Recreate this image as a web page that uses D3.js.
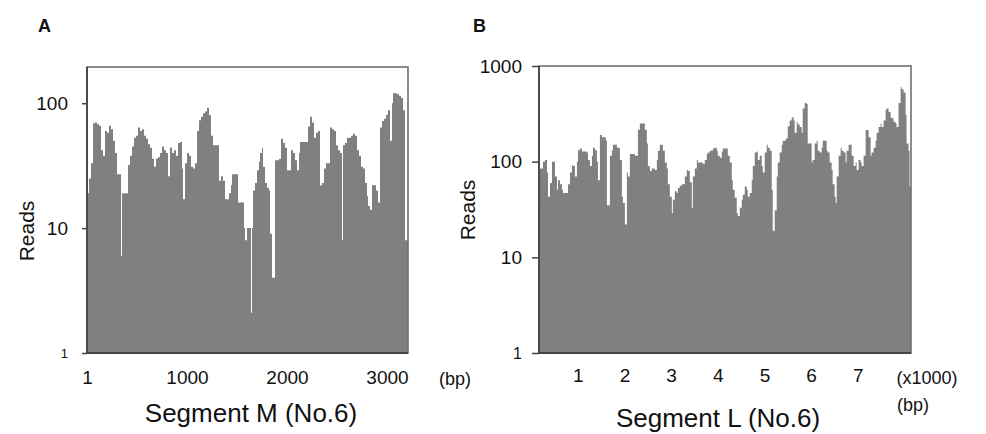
<!DOCTYPE html>
<html><head><meta charset="utf-8">
<script src="https://cdn.jsdelivr.net/npm/d3@7"></script>
<style>body{margin:0;background:#fff;} svg{display:block;} text{font-family:Arial,"Liberation Sans",Helvetica,sans-serif;fill:#111;}</style>
</head><body><svg id="c" width="986" height="434"></svg>
<script>
// Panel A: Segment M (No.6) coverage, positions in bp
const posA=[0,20,40,60,80,100,120,140,160,180,200,220,240,260,280,300,340,350,410,430,450,470,490,510,530,550,570,590,610,630,650,670,690,710,730,750,770,790,810,830,850,870,890,910,930,950,960,980,1000,1020,1040,1060,1080,1100,1120,1140,1160,1180,1200,1220,1240,1260,1320,1340,1360,1380,1420,1440,1450,1510,1570,1580,1600,1640,1650,1660,1680,1700,1720,1730,1750,1760,1780,1800,1820,1830,1850,1880,1920,1940,1960,1980,2000,2040,2060,2080,2100,2120,2130,2190,2210,2230,2250,2270,2290,2310,2330,2350,2370,2390,2430,2450,2470,2490,2510,2530,2550,2560,2580,2600,2640,2660,2680,2700,2720,2740,2760,2780,2800,2810,2830,2850,2890,2910,2930,2950,2970,2990,3010,3030,3050,3060,3100,3120,3140,3160,3180];
const readsA=[19,25,33,69,70,68,66,42,38,60,58,66,62,50,40,27,6,19,32,38,45,53,55,64,60,62,55,52,47,44,36,31,36,37,40,45,42,40,26,44,40,42,38,48,49,30,17,33,40,38,31,30,33,60,73,78,83,86,92,80,55,46,24,26,24,17,19,22,27,16,10,8,10,2.1,10,20,23,29,34,40,44,31,23,21,20,9,4,35,36,52,48,44,29,42,40,35,29,40,49,49,65,78,70,53,58,60,22,23,30,33,64,62,60,46,42,40,8,46,48,53,55,57,55,42,38,31,30,23,18,15,14,22,20,16,64,72,75,81,88,50,100,120,118,115,110,88,8];
// Panel B: Segment L (No.6) coverage, positions in bp
const posB=[170,191,256,298,341,363,405,448,512,555,577,619,662,684,791,833,876,898,940,983,1005,1047,1090,1197,1219,1261,1304,1326,1368,1411,1433,1475,1518,1604,1625,1689,1732,1754,1839,1903,1946,1968,2010,2053,2075,2117,2224,2289,2331,2438,2481,2503,2545,2588,2652,2695,2717,2759,2824,2866,2909,2931,2973,3016,3038,3080,3123,3145,3187,3230,3294,3337,3359,3401,3444,3466,3508,3551,3573,3680,3722,3765,3787,3829,3894,3936,3979,4001,4043,4086,4108,4215,4257,4300,4322,4364,4407,4429,4471,4514,4536,4578,4621,4643,4685,4728,4750,4792,4835,4857,4899,4942,4964,5006,5049,5071,5113,5156,5178,5220,5263,5285,5327,5370,5392,5456,5499,5541,5584,5627,5648,5691,5713,5755,5798,5820,5862,5905,5927,6012,6034,6076,6119,6141,6183,6226,6248,6333,6355,6397,6440,6462,6504,6526,6547,6590,6633,6654,6697,6740,6761,6804,6868,6911,6954,6975,7018,7061,7082,7125,7168,7232,7275,7296,7339,7382,7403,7446,7489,7510,7553,7596,7617,7660,7703,7724,7767,7810,7831,7874,7917,7938,7981,8024,8045,8088,8109];
const readsB=[30,85,100,104,77,43,60,100,70,51,64,58,51,47,58,77,92,90,70,100,132,137,128,125,104,90,115,140,132,100,64,190,180,165,35,115,132,150,140,104,43,37,22,77,70,120,115,215,250,215,155,90,80,85,82,104,130,150,130,98,85,58,43,29,40,49,47,53,56,58,70,82,80,61,33,70,85,104,98,95,104,120,125,130,137,140,130,115,110,128,137,115,98,64,51,42,29,27,33,40,45,55,51,43,47,64,90,125,128,104,115,90,77,125,150,140,130,51,19,31,70,98,125,150,165,175,235,270,290,270,200,260,245,230,200,360,410,400,155,98,104,155,165,130,125,140,165,130,125,98,82,58,43,37,70,115,140,130,125,98,130,150,115,90,98,82,104,98,90,115,214,180,115,125,140,165,200,230,250,230,270,347,360,330,290,285,260,250,230,410,600,570,530,310,155,130,55];

const xTicksA=[1,1000,2000,3000];
const yTicksA=[1,10,100];
const xTicksB=[1000,2000,3000,4000,5000,6000,7000];
const xTickLabelsB=["1","2","3","4","5","6","7"];
const yTicksB=[1,10,100,1000];

const svg=d3.select("#c");

function drawPanel(o){
  const g=svg.append("g");
  const x=d3.scaleLinear().domain(o.xDomain).range([o.left,o.right]);
  const y=d3.scaleLog().domain(o.yDomain).range([o.bottom,o.top]);
  const pts=o.pos.map((p,i)=>[p,o.vals[i]]);
  pts.push([o.xDomain[1],o.vals[o.vals.length-1]]);
  const area=d3.area().x(d=>x(d[0])).y0(y(o.yDomain[0])).y1(d=>y(d[1])).curve(d3.curveStepAfter);
  g.append("path").datum(pts).attr("d",area).attr("fill","#808080");
  // frame
  g.append("rect").attr("x",o.left).attr("y",o.top).attr("width",o.right-o.left).attr("height",o.bottom-o.top)
    .attr("fill","none").attr("stroke","#707070").attr("stroke-width",1.6);
  g.append("line").attr("x1",o.left).attr("x2",o.left).attr("y1",o.top).attr("y2",o.bottom).attr("stroke","#444").attr("stroke-width",1.8);
  g.append("line").attr("x1",o.left).attr("x2",o.right).attr("y1",o.bottom).attr("y2",o.bottom).attr("stroke","#444").attr("stroke-width",1.8);
  // y axis
  const ya=g.append("g").attr("transform",`translate(${o.left},0)`)
    .call(d3.axisLeft(y).tickValues(o.yTicks).tickFormat(d3.format("d")).tickSize(o.yTickSize).tickPadding(o.yPad));
  ya.select(".domain").remove();
  ya.selectAll("line").attr("stroke","#444").attr("stroke-width",1.5);
  ya.selectAll("text").attr("font-size",d=>d===1?o.oneSize:19).attr("fill","#111").style("font-family","Arial, 'Liberation Sans', sans-serif");
  // x axis
  const xa=g.append("g").attr("transform",`translate(0,${o.bottom})`)
    .call(d3.axisBottom(x).tickValues(o.xTicks).tickFormat((d,i)=>o.xLabels[i]).tickSize(0).tickPadding(o.xPad));
  xa.select(".domain").remove();
  xa.selectAll("text").attr("font-size",19).attr("fill","#111").style("font-family","Arial, 'Liberation Sans', sans-serif");
  return g;
}

drawPanel({pos:posA,vals:readsA,xDomain:[0,3210],yDomain:[1,195],left:87,right:408,top:67,bottom:353,
  yTicks:yTicksA,yTickSize:5,yPad:14,xTicks:xTicksA,xLabels:xTicksA.map(String),xPad:18,oneSize:13});
drawPanel({pos:posB,vals:readsB,xDomain:[170,8140],yDomain:[1,1000],left:539,right:911,top:66,bottom:353,
  yTicks:yTicksB,yTickSize:7,yPad:10,xTicks:xTicksB,xLabels:xTickLabelsB,xPad:16,oneSize:16});

// annotations
svg.append("text").attr("x",38).attr("y",32).attr("font-size",18).attr("font-weight","bold").text("A");
svg.append("text").attr("x",473).attr("y",32).attr("font-size",18).attr("font-weight","bold").text("B");
svg.append("text").attr("transform","translate(34,231) rotate(-90)").attr("text-anchor","middle").attr("font-size",21).text("Reads");
svg.append("text").attr("transform","translate(475,210) rotate(-90)").attr("text-anchor","middle").attr("font-size",21).text("Reads");
svg.append("text").attr("x",455).attr("y",385).attr("text-anchor","middle").attr("font-size",18).text("(bp)");
svg.append("text").attr("x",927).attr("y",384).attr("text-anchor","middle").attr("font-size",18).text("(x1000)");
svg.append("text").attr("x",913).attr("y",411).attr("text-anchor","middle").attr("font-size",18).text("(bp)");
svg.append("text").attr("x",251).attr("y",422).attr("text-anchor","middle").attr("font-size",26).text("Segment M (No.6)");
svg.append("text").attr("x",718).attr("y",427).attr("text-anchor","middle").attr("font-size",26).text("Segment L (No.6)");
</script></body></html>
